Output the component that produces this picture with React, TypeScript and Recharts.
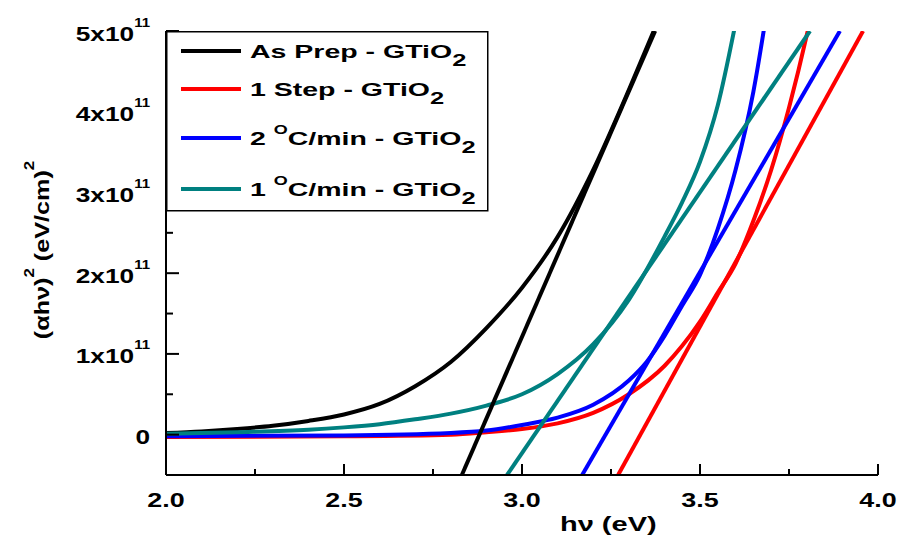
import React from 'react';
import { LineChart, Line, XAxis, YAxis, Legend } from 'recharts';

const FONT = '"Liberation Sans", Arial, sans-serif';

// hν (eV) against (αhν)² in units of 10^11 (eV/cm)²
const asPrepEnergy = [2.0, 2.1, 2.2, 2.3, 2.4, 2.5, 2.6, 2.7, 2.8, 2.9, 3.0, 3.1, 3.2, 3.3, 3.37];
const asPrepValue = [0.02, 0.04, 0.07, 0.11, 0.17, 0.25, 0.38, 0.6, 0.9, 1.32, 1.82, 2.45, 3.28, 4.27, 5.0];

const oneStepEnergy = [2.0, 2.5, 2.8, 2.9, 3.0, 3.1, 3.2, 3.3, 3.4, 3.45, 3.5, 3.55, 3.6, 3.65, 3.7, 3.75, 3.8, 3.85];
const oneStepValue = [-0.03, -0.02, 0.0, 0.03, 0.07, 0.14, 0.27, 0.5, 0.85, 1.1, 1.4, 1.76, 2.12, 2.65, 3.28, 4.05, 4.95, 6.0];

const twoDegEnergy = [2.0, 2.5, 2.8, 2.9, 3.0, 3.1, 3.2, 3.3, 3.35, 3.4, 3.45, 3.5, 3.55, 3.6, 3.65, 3.7];
const twoDegValue = [-0.02, -0.01, 0.02, 0.05, 0.12, 0.21, 0.37, 0.67, 0.9, 1.22, 1.6, 1.98, 2.55, 3.28, 4.25, 5.6];

const oneDegEnergy = [2.0, 2.2, 2.4, 2.5, 2.6, 2.7, 2.8, 2.9, 3.0, 3.1, 3.2, 3.3, 3.4, 3.45, 3.5, 3.55, 3.6];
const oneDegValue = [0.01, 0.03, 0.06, 0.09, 0.13, 0.19, 0.26, 0.36, 0.5, 0.75, 1.12, 1.67, 2.45, 2.88, 3.38, 4.08, 5.1];

// linear extrapolations (band gap fits), end points at the frame
const asPrepFitEnergy = [2.831, 3.374];
const oneStepFitEnergy = [3.27, 3.958];
const twoDegFitEnergy = [3.169, 3.893];
const oneDegFitEnergy = [2.958, 3.809];
const fitValue = [-0.5, 5.0];

const seriesPrefix = ['As Prep', '1 Step', '2', '1'];
const seriesHasDegree = [false, false, true, true];
const seriesColors = ['#000000', '#ff0000', '#0000ff', '#008080'];

const xTicks = [2, 2.25, 2.5, 2.75, 3, 3.25, 3.5, 3.75, 4];
const xMajor = [2, 2.5, 3, 3.5, 4];
const xTickLabels = ['2.0', '2.5', '3.0', '3.5', '4.0'];
const yTicks = [0, 0.5, 1, 1.5, 2, 2.5, 3, 3.5, 4, 4.5, 5];
const yMajor = [0, 1, 2, 3, 4, 5];
const yTickLabels = ['0', '1x10', '2x10', '3x10', '4x10', '5x10'];
const yExponent = '11';

const legendRowY = [20, 58, 107, 158];

const toPoints = (xs: number[], ys: number[]) => xs.map((x, i) => ({ x, y: ys[i] }));

const curves = [
  toPoints(asPrepEnergy, asPrepValue),
  toPoints(oneStepEnergy, oneStepValue),
  toPoints(twoDegEnergy, twoDegValue),
  toPoints(oneDegEnergy, oneDegValue),
];
const fits = [
  toPoints(asPrepFitEnergy, fitValue),
  toPoints(oneStepFitEnergy, fitValue),
  toPoints(twoDegFitEnergy, fitValue),
  toPoints(oneDegFitEnergy, fitValue),
];

const BottomTick = (props: any) => {
  const { x, y, payload } = props;
  const idx = xMajor.indexOf(payload.value);
  const major = idx >= 0;
  return (
    <g>
      <line x1={x} x2={x} y1={y} y2={y - (major ? 11 : 6)} stroke="#000" strokeWidth={2} />
      {major && (
        <g transform={`translate(${x},${y + 31.5}) scale(1.28,1)`}>
          <text textAnchor="middle" fontSize={21} fontWeight="bold" fontFamily={FONT} fill="#000">
            {xTickLabels[idx]}
          </text>
        </g>
      )}
    </g>
  );
};

const TopTick = (props: any) => {
  const { x, y, payload } = props;
  const major = xMajor.indexOf(payload.value) >= 0;
  return <line x1={x} x2={x} y1={y} y2={y + (major ? 11 : 6)} stroke="#000" strokeWidth={2} />;
};

const LeftTick = (props: any) => {
  const { x, y, payload } = props;
  const idx = yMajor.indexOf(payload.value);
  const major = idx >= 0;
  return (
    <g>
      <line x1={x} x2={x + (major ? 13 : 7)} y1={y} y2={y} stroke="#000" strokeWidth={2} />
      {major && (
        <g transform={`translate(${x - 16},${y + 9.5}) scale(1.25,1)`}>
          <text textAnchor="end" fontSize={21} fontWeight="bold" fontFamily={FONT} fill="#000">
            {yTickLabels[idx]}
            {idx > 0 && (
              <tspan dy={-14} fontSize={12}>
                {yExponent}
              </tspan>
            )}
          </text>
        </g>
      )}
    </g>
  );
};

const RightTick = (props: any) => {
  const { x, y, payload } = props;
  const major = yMajor.indexOf(payload.value) >= 0;
  return <line x1={x} x2={x - (major ? 13 : 7)} y1={y} y2={y} stroke="#000" strokeWidth={2} />;
};

const YTitle = () => (
  <text
    transform="translate(49,250) rotate(-90) scale(1.2,1)"
    textAnchor="middle"
    fontSize={21}
    fontWeight="bold"
    fontFamily={FONT}
    fill="#000"
  >
    (αhν)
    <tspan dy={-15} fontSize={14}>2</tspan>
    <tspan dy={15}> (eV/cm)</tspan>
    <tspan dy={-15} fontSize={14}>2</tspan>
  </text>
);

const XTitle = () => (
  <text
    transform="translate(560,531) scale(1.45,1)"
    fontSize={20}
    fontWeight="bold"
    fontFamily={FONT}
    fill="#000"
  >
    hν (eV)
  </text>
);

const renderLegend = () => (
  <svg width={323} height={181} style={{ display: 'block' }}>
    <rect x={0.75} y={0.75} width={321} height={179} fill="#fff" stroke="#000" strokeWidth={1.5} />
    {seriesColors.map((c, i) => (
      <g key={i}>
        <line x1={15} x2={75} y1={legendRowY[i]} y2={legendRowY[i]} stroke={c} strokeWidth={4} />
        <g transform={`translate(84,${legendRowY[i] + 7}) scale(1.5,1)`}>
          <text fontSize={19} fontWeight="bold" fontFamily={FONT} fill="#000">
            {seriesPrefix[i]}
            {seriesHasDegree[i] && (
              <>
                <tspan>{' '}</tspan>
                <tspan dy={-11} fontSize={12}>O</tspan>
                <tspan dy={11}>C/min</tspan>
              </>
            )}
            <tspan>{' - GTiO'}</tspan>
            <tspan dy={8} fontSize={17}>2</tspan>
          </text>
        </g>
      </g>
    ))}
  </svg>
);

export default function App() {
  const axisLine = { stroke: '#000', strokeWidth: 2 };
  return (
    <div style={{ position: 'absolute', left: 0, top: 0, width: 898, height: 536, background: '#fff' }}>
      <LineChart width={898} height={536} margin={{ top: 31, right: 20, bottom: 0, left: 0 }}>
        <XAxis
          xAxisId="b"
          type="number"
          dataKey="x"
          domain={[2, 4]}
          allowDataOverflow
          ticks={xTicks}
          interval={0}
          height={61}
          axisLine={axisLine}
          tickLine={false}
          tickSize={0}
          tickMargin={0}
          tick={<BottomTick />}
          label={<XTitle />}
        />
        <XAxis
          xAxisId="t"
          orientation="top"
          type="number"
          dataKey="x"
          domain={[2, 4]}
          allowDataOverflow
          ticks={xTicks}
          interval={0}
          height={0}
          axisLine={axisLine}
          tickLine={false}
          tickSize={0}
          tickMargin={0}
          tick={<TopTick />}
        />
        <YAxis
          yAxisId="l"
          type="number"
          domain={[-0.5, 5]}
          allowDataOverflow
          ticks={yTicks}
          interval={0}
          width={166}
          axisLine={axisLine}
          tickLine={false}
          tickSize={0}
          tickMargin={0}
          tick={<LeftTick />}
          label={<YTitle />}
        />
        <YAxis
          yAxisId="r"
          orientation="right"
          type="number"
          domain={[-0.5, 5]}
          allowDataOverflow
          ticks={yTicks}
          interval={0}
          width={0}
          axisLine={axisLine}
          tickLine={false}
          tickSize={0}
          tickMargin={0}
          tick={<RightTick />}
        />
        <Legend
          layout="vertical"
          align="center"
          verticalAlign="middle"
          content={renderLegend}
          wrapperStyle={{ left: 166, top: 31, width: 323, height: 181 }}
        />
        {curves.map((d, i) => (
          <Line
            key={`curve-${i}`}
            xAxisId="b"
            yAxisId="l"
            data={d}
            dataKey="y"
            type="monotone"
            stroke={seriesColors[i]}
            strokeWidth={4}
            dot={false}
            activeDot={false}
            isAnimationActive={false}
          />
        ))}
        {fits.map((d, i) => (
          <Line
            key={`fit-${i}`}
            xAxisId="b"
            yAxisId="l"
            data={d}
            dataKey="y"
            type="linear"
            stroke={seriesColors[i]}
            strokeWidth={4}
            dot={false}
            activeDot={false}
            legendType="none"
            isAnimationActive={false}
          />
        ))}
      </LineChart>
    </div>
  );
}
